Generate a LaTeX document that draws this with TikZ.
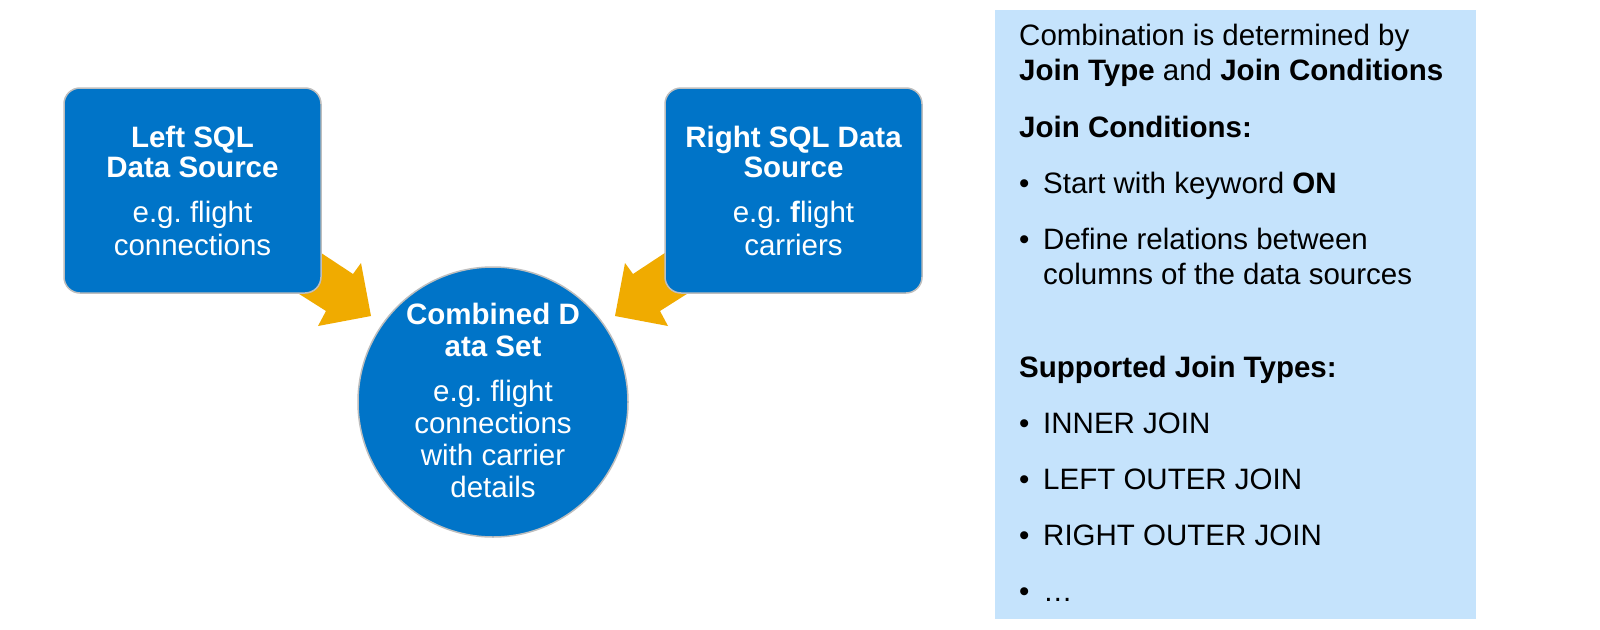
\documentclass[tikz,border=0pt]{standalone}
\usepackage{fontspec}
\setmainfont{Liberation Sans}
\frenchspacing
\definecolor{sapblue}{RGB}{0,116,200}
\definecolor{sapgold}{RGB}{240,171,0}
\definecolor{panelblue}{RGB}{197,227,252}
\definecolor{rimgray}{RGB}{190,190,190}
\newcommand{\tsize}{\fontsize{29.5pt}{30pt}\selectfont}
\newcommand{\nsize}{\fontsize{29.5pt}{32.5pt}\selectfont}
\begin{document}
\begin{tikzpicture}[x=1pt,y=-1pt,
  srcbox/.style={draw=rimgray,line width=1.5pt,fill=sapblue,rounded corners=16pt,minimum width=257pt,minimum height=205pt,inner sep=0pt},
  combined/.style={circle,draw=rimgray,line width=1.5pt,fill=sapblue,minimum size=270pt,inner sep=0pt},
  boxtitle/.style={text=white,font=\tsize\bfseries,align=center,anchor=base,inner sep=0pt},
  boxtext/.style={text=white,font=\nsize,align=center,anchor=base,inner sep=0pt},
  blockarrow/.style={fill=sapgold,draw=none},
  paneltext/.style={font=\nsize,anchor=base west,inner sep=0pt,text=black},
  bulletdot/.style={font=\nsize,anchor=base west,inner sep=0pt,text=black}
]
\useasboundingbox (0,0) rectangle (1600,629);
\fill[white] (0,0) rectangle (1600,629);

% block arrows (drawn under the boxes)
\fill[blockarrow] (306,243) -- (353,274) -- (361,263) -- (371,316) -- (318,326) -- (326,311) -- (285,285) -- cycle;
\fill[blockarrow] (680,243) -- (633,274) -- (625,263) -- (615,316) -- (668,326) -- (660,311) -- (701,285) -- cycle;

% sources (base anchor of a multi-line node = baseline of its last line)
\node[srcbox] (left) at (192.5,190.5) {};
\node[boxtitle] (lefttitle) at (192.5,177) {Left SQL\\Data Source};
\node[boxtext] (lefttext) at (192.5,255) {e.g. flight\\connections};

\node[srcbox] (right) at (793.5,190.5) {};
\node[boxtitle] (righttitle) at (793.5,177) {Right SQL Data\\Source};
\node[boxtext] (righttext) at (793.5,255) {e.g. \textbf{f}light\\carriers};

% combined data set
\node[combined] (comb) at (493,402) {};
\node[boxtitle,font=\fontsize{29.5pt}{32pt}\selectfont\bfseries] (combtitle) at (493,356) {Combined D\\ata Set};
\node[boxtext,font=\fontsize{29.5pt}{32pt}\selectfont] (combtext) at (493,497) {e.g. flight\\connections\\with carrier\\details};

% info panel
\fill[panelblue] (995,10) rectangle (1476,619);
\node[paneltext] (p1) at (1019,45) {Combination is determined by};
\node[paneltext] (p2) at (1019,80) {\textbf{Join Type} and \textbf{Join Conditions}};
\node[paneltext] (p3) at (1019,137) {\textbf{Join Conditions:}};
\node[bulletdot] (b1) at (1019,193) {•};
\node[paneltext] (t1) at (1043,193) {Start with keyword \textbf{ON}};
\node[bulletdot] (b2) at (1019,249) {•};
\node[paneltext,align=left,font=\fontsize{29.5pt}{35pt}\selectfont] (t2) at (1043,284) {Define relations between\\columns of the data sources};
\node[paneltext] (p4) at (1019,377) {\textbf{Supported Join Types:}};
\node[bulletdot] (b3) at (1019,433) {•};
\node[paneltext] (t3) at (1043,433) {INNER JOIN};
\node[bulletdot] (b4) at (1019,489) {•};
\node[paneltext] (t4) at (1043,489) {LEFT OUTER JOIN};
\node[bulletdot] (b5) at (1019,545) {•};
\node[paneltext] (t5) at (1043,545) {RIGHT OUTER JOIN};
\node[bulletdot] (b6) at (1019,601) {•};
\node[paneltext] (t6) at (1043,601) {…};
\end{tikzpicture}
\end{document}
